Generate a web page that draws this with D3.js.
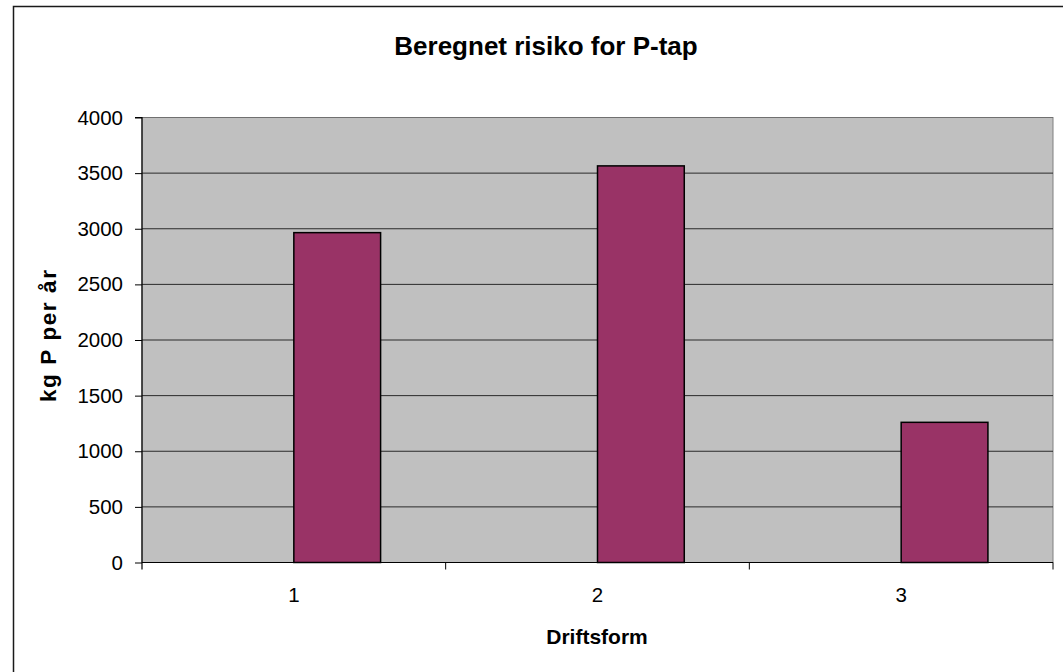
<!DOCTYPE html>
<html>
<head>
<meta charset="utf-8">
<script src="https://cdn.jsdelivr.net/npm/d3@7"></script>
<style>
  body { margin: 0; background: #fff; }
  text { font-family: "Liberation Sans", Arial, sans-serif; fill: #000; }
</style>
</head>
<body>
<svg id="chart" width="1063" height="672"></svg>
<script>
// data
let categories = ['1', '2', '3'];
let seriesNames = ['tom', 'P-tap'];   // first series is empty in the original workbook
let emptySeries = [null, null, null];
let pTap = [2965, 3565, 1260];
let yTicks = [0, 500, 1000, 1500, 2000, 2500, 3000, 3500, 4000];

let svg = d3.select('#chart');
let plotL = 142, plotR = 1053, plotT = 117.5, plotB = 562.5;

// outer chart border (only top and left fall inside the picture)
svg.append('rect')
  .attr('x', 13.5).attr('y', 6.5)
  .attr('width', 1100).attr('height', 700)
  .attr('fill', 'none')
  .attr('stroke', '#1a1a1a')
  .attr('stroke-width', 1.5);

let sy = d3.scaleLinear().domain([0, 4000]).range([plotB, plotT]);
let sx = d3.scaleBand().domain(categories).range([plotL, plotR]).paddingInner(0).paddingOuter(0);
let sx1 = d3.scaleBand().domain(seriesNames).range([0, sx.bandwidth()])
  .paddingInner(0).paddingOuter(0.75);

// plot area
svg.append('rect')
  .attr('x', plotL).attr('y', plotT)
  .attr('width', plotR - plotL).attr('height', plotB - plotT)
  .attr('fill', '#c0c0c0')
  .attr('stroke', '#808080')
  .attr('stroke-width', 1);

svg.selectAll('.grid')
  .data(yTicks.filter(d => d > 0))
  .enter()
  .append('line')
  .attr('class', 'grid')
  .attr('x1', plotL).attr('x2', plotR)
  .attr('y1', d => sy(d)).attr('y2', d => sy(d))
  .attr('stroke', d => d === 4000 ? '#707070' : '#2a2a2a')
  .attr('stroke-width', 1);

// bars
let rows = categories.map((c, i) => ({cat: c, vals: [emptySeries[i], pTap[i]]}));
svg.selectAll('.bar')
  .data(rows.flatMap(r => r.vals.map((v, j) => ({cat: r.cat, s: seriesNames[j], v: v}))).filter(d => d.v != null))
  .enter()
  .append('rect')
  .attr('class', 'bar')
  .attr('x', d => sx(d.cat) + sx1(d.s))
  .attr('width', sx1.bandwidth())
  .attr('y', d => sy(d.v))
  .attr('height', d => sy(0) - sy(d.v))
  .attr('fill', '#993366')
  .attr('stroke', '#000')
  .attr('stroke-width', 1.5);

// y axis
let yAxis = d3.axisLeft(sy).tickValues(yTicks).tickSize(7).tickPadding(12).tickFormat(d3.format('d'));
let gy = svg.append('g').attr('transform', `translate(${plotL},0)`).call(yAxis);
gy.select('.domain').attr('stroke', '#000').attr('stroke-width', 1.2).attr('d', `M-7,${plotT}H0V${plotB + 7}`);
gy.selectAll('.tick line').attr('stroke', '#000');
gy.selectAll('text').style('font-size', '20.5px').attr('font-family', null);

// x axis: ticks between categories
let xAxisLine = svg.append('g');
xAxisLine.append('line')
  .attr('x1', plotL).attr('x2', plotR)
  .attr('y1', plotB).attr('y2', plotB)
  .attr('stroke', '#000').attr('stroke-width', 1.2);
xAxisLine.selectAll('.xt')
  .data(categories)
  .enter()
  .append('line')
  .attr('class', 'xt')
  .attr('x1', d => sx(d) + sx.bandwidth()).attr('x2', d => sx(d) + sx.bandwidth())
  .attr('y1', plotB).attr('y2', plotB + 7)
  .attr('stroke', '#000');
xAxisLine.selectAll('.xl')
  .data(categories)
  .enter()
  .append('text')
  .attr('class', 'xl')
  .attr('x', d => sx(d) + sx.bandwidth() / 2)
  .attr('y', 602)
  .attr('text-anchor', 'middle')
  .style('font-size', '20.5px')
  .text(d => d);

// titles
svg.append('text')
  .attr('x', 546).attr('y', 55)
  .attr('text-anchor', 'middle')
  .style('font-size', '26px').style('font-weight', 'bold')
  .text('Beregnet risiko for P-tap');

svg.append('text')
  .attr('x', 597).attr('y', 644)
  .attr('text-anchor', 'middle')
  .style('font-size', '21px').style('font-weight', 'bold')
  .text('Driftsform');

svg.append('text')
  .attr('transform', 'translate(56,336) rotate(-90)')
  .attr('text-anchor', 'middle')
  .attr('textLength', 132).attr('lengthAdjust', 'spacing')
  .style('font-size', '22.5px').style('font-weight', 'bold')
  .text('kg P per år');
</script>
</body>
</html>
